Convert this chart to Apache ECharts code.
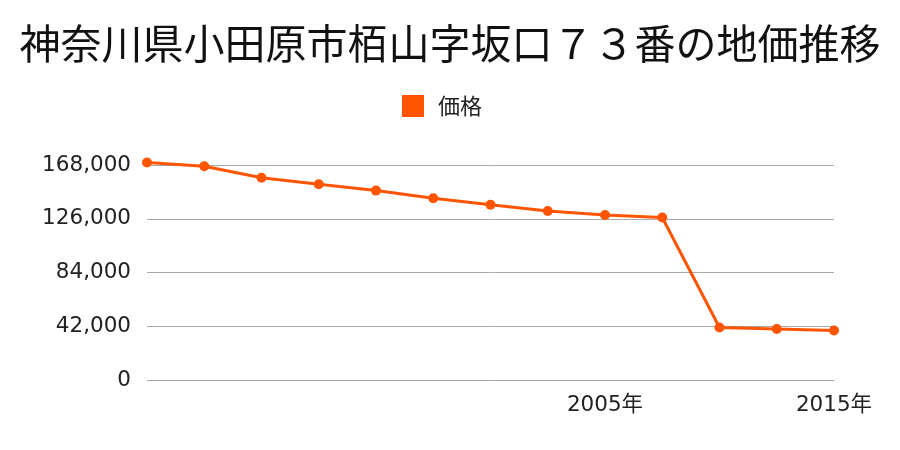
<!DOCTYPE html>
<html><head><meta charset="utf-8">
<script src="https://cdn.jsdelivr.net/npm/echarts@6/dist/echarts.min.js"></script>
<style>html,body{margin:0;padding:0;background:#fff}#c{width:900px;height:450px}</style>
</head><body><div id="c"></div>
<script>
var titleText = '神奈川県小田原市栢山字坂口７３番の地価推移';
var seriesName = '価格';
var years = ['1997年','1998年','1999年','2000年','2001年','2002年','2003年','2004年','2005年','2006年','2013年','2014年','2015年'];
var shownLabels = ['2005年','2015年'];
var prices = [170000,167000,158000,153000,148000,142000,137000,132000,129000,127000,41000,39800,38700];
var yTicks = {min:0, max:168000, interval:42000};

var numFont = 'DejaVu Sans, Noto Sans CJK JP';
var chart = echarts.init(document.getElementById('c'));
chart.setOption({
  animation:false,
  title:{text:titleText,left:'center',top:18,textStyle:{fontFamily:'Noto Sans CJK JP',fontSize:41,fontWeight:'normal',color:'#111'}},
  legend:{data:[seriesName],top:90,left:397,itemWidth:22,itemHeight:22,icon:'rect',itemGap:10,
    textStyle:{fontFamily:'Noto Sans CJK JP',fontSize:22,color:'#222',padding:[0,0,0,9]}},
  grid:{left:147,right:66,top:165,bottom:70,containLabel:false},
  xAxis:{type:'category',data:years,boundaryGap:false,
    axisLine:{show:true,lineStyle:{color:'#aaa'}},axisTick:{show:false},
    axisLabel:{interval:0,margin:15,fontFamily:numFont,fontSize:21.5,color:'#222',
      formatter:function(v){return shownLabels.indexOf(v)>=0?v:'';}},
    splitLine:{show:false}},
  yAxis:{type:'value',min:yTicks.min,max:yTicks.max,interval:yTicks.interval,
    axisLine:{show:false},axisTick:{show:false},
    axisLabel:{margin:16,fontFamily:numFont,fontSize:21.5,color:'#222',
      formatter:function(v){return v.toLocaleString('en-US');}},
    splitLine:{lineStyle:{color:'#aaa'}}},
  series:[{name:seriesName,type:'line',data:prices,symbol:'circle',symbolSize:10,clip:false,
    itemStyle:{color:'#ff5500'},lineStyle:{color:'#ff5500',width:3}}]
});
</script></body></html>
